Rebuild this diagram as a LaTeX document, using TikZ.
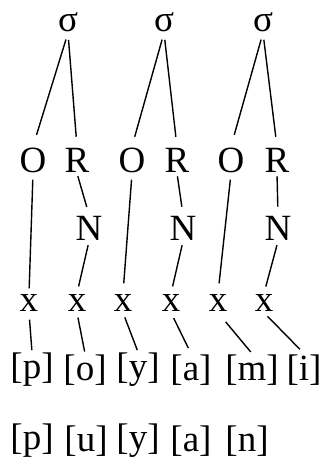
\documentclass[tikz,border=0pt]{standalone}
\usepackage{fontspec}
\setmainfont{Liberation Serif}
\usepackage{tikz}
\usetikzlibrary{positioning}

\begin{document}
\begin{tikzpicture}[x=1pt,y=-1pt,
  seg/.style={inner sep=1pt,font=\fontsize{37}{40}\selectfont},
  tie/.style={line width=1.4pt}]
\useasboundingbox (0,0) rectangle (330,476);
% syllables
\node[seg] (s1) at (68,22) {σ};
\node[seg] (s2) at (164,22) {σ};
\node[seg] (s3) at (263,22) {σ};
% onset / rhyme
\node[seg] (o1) at (33,160) {O};
\node[seg] (r1) at (77,160) {R};
\node[seg] (o2) at (132,160) {O};
\node[seg] (r2) at (177,160) {R};
\node[seg] (o3) at (231,160) {O};
\node[seg] (r3) at (277,160) {R};
% nuclei
\node[seg] (n1) at (89,228) {N};
\node[seg] (n2) at (183,228) {N};
\node[seg] (n3) at (278,228) {N};
% skeleton
\node[seg] (x1) at (29,303) {x};
\node[seg] (x2) at (77,303) {x};
\node[seg] (x3) at (123,303) {x};
\node[seg] (x4) at (171,303) {x};
\node[seg] (x5) at (218,303) {x};
\node[seg] (x6) at (264,303) {x};
% segments
\node[seg] (b1) at (32,370) {[p]};
\node[seg] (b2) at (85,370) {[o]};
\node[seg] (b3) at (138,370) {[y]};
\node[seg] (b4) at (191,370) {[a]};
\node[seg] (b5) at (252,370) {[m]};
\node[seg] (b6) at (304,370) {[i]};
\node[seg] (c1) at (32,441) {[p]};
\node[seg] (c2) at (86,441) {[u]};
\node[seg] (c3) at (138,441) {[y]};
\node[seg] (c4) at (191,441) {[a]};
\node[seg] (c5) at (247,441) {[n]};

\draw[tie,shorten <=7pt,shorten >=12pt] (s1.south) -- (o1.north);
\draw[tie,shorten <=7pt,shorten >=10pt] (s1.south) -- (r1.north);
\draw[tie,shorten <=7pt,shorten >=10pt] (s2.south) -- (o2.north);
\draw[tie,shorten <=7pt,shorten >=10pt] (s2.south) -- (r2.north);
\draw[tie,shorten <=7pt,shorten >=12pt] (s3.south) -- (o3.north);
\draw[tie,shorten <=7pt,shorten >=10pt] (s3.south) -- (r3.north);

\draw[tie,shorten <=6pt,shorten >=5pt] (o1.south) -- (x1.north);
\draw[tie,shorten <=6pt,shorten >=10pt] (o2.south) -- (x3.north);
\draw[tie,shorten <=6pt,shorten >=10pt] (o3.south) -- (x5.north);

\draw[tie,shorten <=3pt,shorten >=8pt] (r1.south) -- (n1.north);
\draw[tie,shorten <=3pt,shorten >=8pt] (r2.south) -- (n2.north);
\draw[tie,shorten <=3pt,shorten >=8pt] (r3.south) -- (n3.north);

\draw[tie,shorten <=4pt,shorten >=7pt] (n1.south) -- (x2.north);
\draw[tie,shorten <=4pt,shorten >=7pt] (n2.south) -- (x4.north);
\draw[tie,shorten <=4pt,shorten >=7pt] (n3.south) -- (x6.north);

\draw[tie,shorten <=7pt,shorten >=2pt] (x1.south) -- (b1.north);
\draw[tie,shorten <=5pt,shorten >=2pt] (x2.south) -- (b2.north);
\draw[tie,shorten <=5pt,shorten >=2pt] (x3.south) -- (b3.north);
\draw[tie,shorten <=6pt,shorten >=6pt] (x4.south) -- (b4.north);
\draw[tie,shorten <=12pt,shorten >=2pt] (x5.south) -- (b5.north);
\draw[tie,shorten <=5pt,shorten >=6pt] (x6.south) -- (b6.north);
\end{tikzpicture}
\end{document}
